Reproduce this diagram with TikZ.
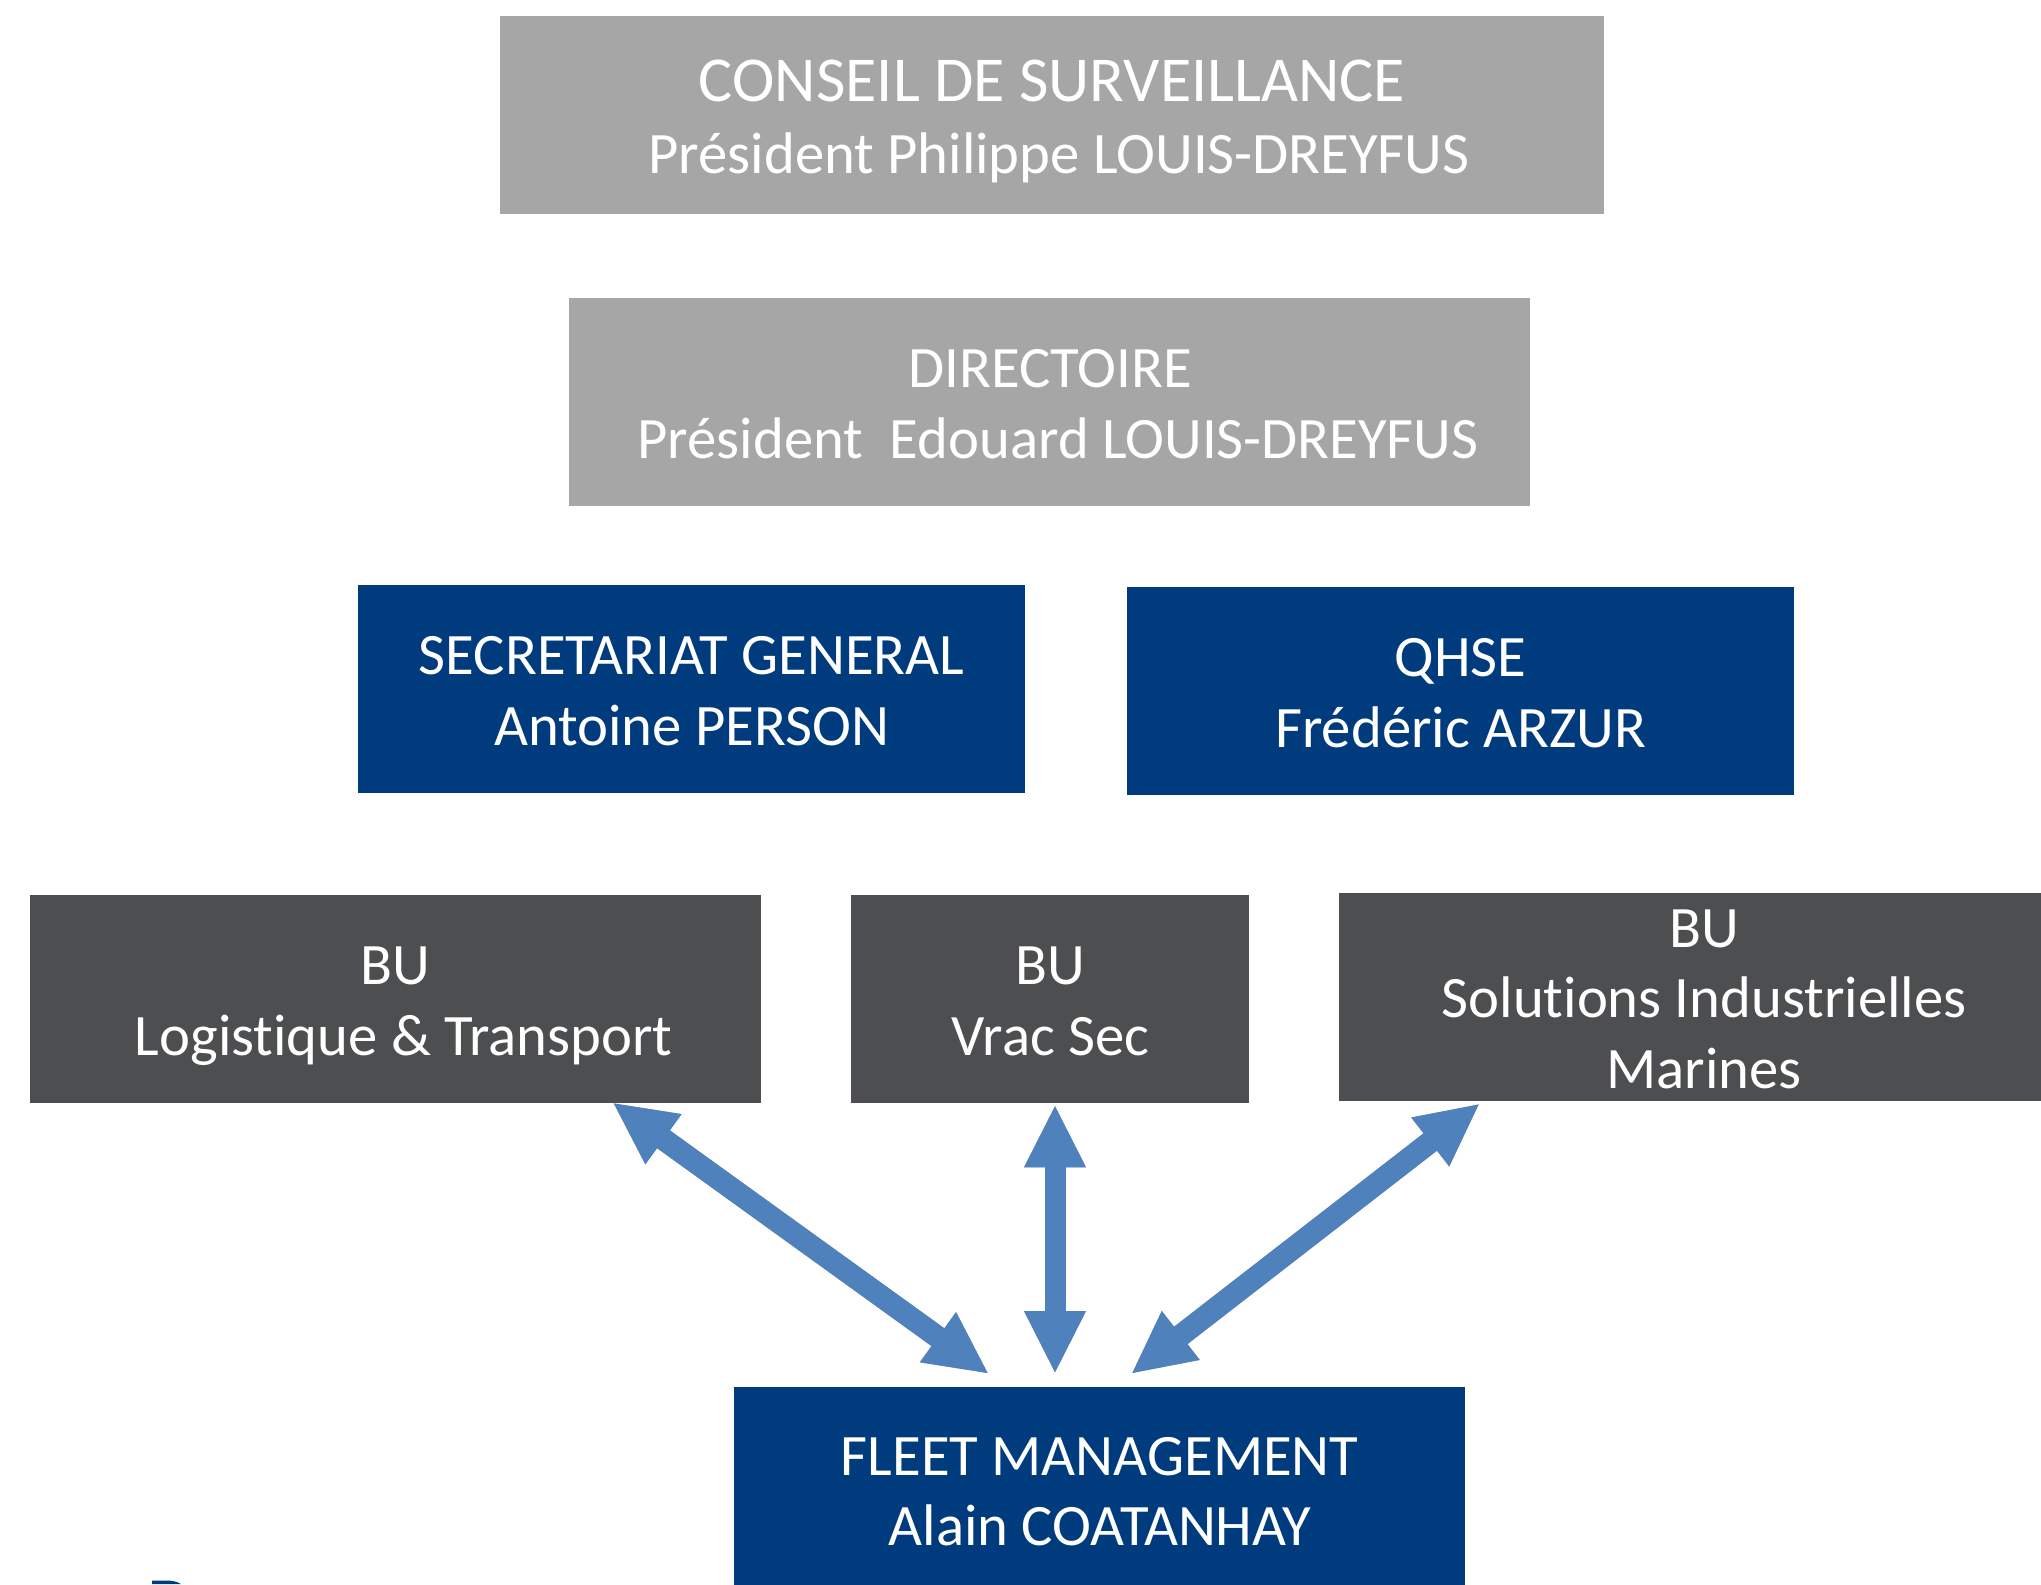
\documentclass[tikz,border=0pt]{standalone}
\usepackage{fontspec}
\setmainfont[Ligatures=NoCommon]{Carlito}
\usetikzlibrary{arrows.meta,calc}
\definecolor{greybox}{RGB}{166,166,166}
\definecolor{navybox}{RGB}{0,60,125}
\definecolor{darkbox}{RGB}{77,78,80}
\definecolor{arrowblue}{RGB}{79,129,189}
\newcommand{\bodyfont}{\fontsize{58.7}{70.6}\selectfont}
\newcommand{\topstrut}{\rule{0pt}{45pt}}
\newcommand{\botstrut}{\rule[-3.8pt]{0pt}{3.8pt}}
\tikzset{
  x=1pt,y=-1pt,
  box/.style={rectangle,inner sep=0pt,text=white,align=center,anchor=north west,font=\bodyfont},
  greyb/.style={box,fill=greybox},
  navyb/.style={box,fill=navybox},
  darkb/.style={box,fill=darkbox},
  label/.style={inner sep=0pt,text=white,font=\bodyfont},
  bigarrow/.style={line width=22pt,arrowblue,{Triangle[length=63pt,width=57pt]}-{Triangle[length=63pt,width=57pt]}},
  softshadow/.style={line width=22pt,black,opacity=0.07,{Triangle[length=63pt,width=57pt]}-{Triangle[length=63pt,width=57pt]}},
  straightarrow/.style={bigarrow,line width=21pt}
}
\begin{document}
\begin{tikzpicture}
\useasboundingbox (0,0) rectangle (2041,1584);
\fill[white] (0,0) rectangle (2041,1584);
\node[greyb,minimum width=1104pt,minimum height=198pt] (conseil) at (500,16) {};
\node[label,font=\fontsize{64}{72}\selectfont] (conseilA) at (1052,81) {CONSEIL DE SURVEILLANCE};
\node[label] (conseilB) at (1059,158) {Président Philippe LOUIS-DREYFUS};
\node[greyb,minimum width=961pt,minimum height=208pt] (dir) at (569,298) {};
\node[label] (dirA) at (1050,369) {DIRECTOIRE};
\node[label] (dirB) at (1058,438) {Président\ \ Edouard LOUIS-DREYFUS};
\node[navyb,minimum width=667pt,minimum height=208pt] (sec) at (358,585) {\topstrut SECRETARIAT GENERAL\\Antoine PERSON\botstrut};
\node[navyb,minimum width=667pt,minimum height=208pt] (qhse) at (1127,587) {\topstrut QHSE\\Frédéric ARZUR\botstrut};
\node[darkb,minimum width=731pt,minimum height=208pt] (bua) at (30,895) {\topstrut BU\\\raisebox{0pt}[0pt][0pt]{\hspace*{16pt}Logistique \& Transport}\botstrut};
\node[darkb,minimum width=398pt,minimum height=208pt] (bub) at (851,895) {\topstrut BU\\Vrac Sec\botstrut};
\node[darkb,minimum width=730pt,minimum height=208pt] (buc) at (1339,893) {\topstrut BU\\Solutions Industrielles\\Marines\botstrut};
\node[navyb,minimum width=731pt,minimum height=205pt] (fleet) at (734,1387) {\topstrut FLEET MANAGEMENT\\Alain COATANHAY\botstrut};
\coordinate (aT) at ($(bua.south east)+(-149,-1)$);
\coordinate (aB) at ($(fleet.north west)+(255,-13)$);
\coordinate (bT) at ($(bub.south west)+(204,1)$);
\coordinate (bB) at ($(fleet.north west)+(321,-13)$);
\coordinate (cT) at ($(buc.south west)+(141,2)$);
\coordinate (cB) at ($(fleet.north west)+(397,-13)$);
\foreach \dx/\dy in {1/2,2/3,2/5,3/6}{
  \begin{scope}[shift={(\dx,\dy)}]
    \draw[softshadow] (aT) -- (aB);
    \draw[softshadow,line width=21pt] (bT) -- (bB);
    \draw[softshadow] (cT) -- (cB);
  \end{scope}
}
\draw[bigarrow] (aT) -- (aB);
\draw[straightarrow] (bT) -- (bB);
\draw[bigarrow] (cT) -- (cB);
\fill[navybox] (152,1584) -- (152,1580.5) -- (166,1580.5) .. controls (172,1580.5) and (177,1581.5) .. (181,1584) -- cycle;
\end{tikzpicture}
\end{document}
